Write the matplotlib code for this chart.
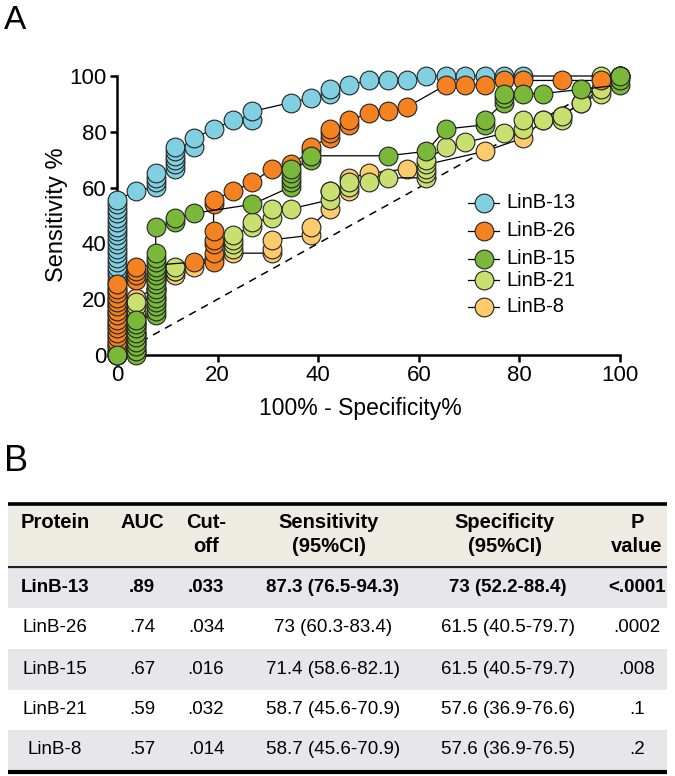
import matplotlib
matplotlib.use('Agg')
import matplotlib.pyplot as plt
from matplotlib import font_manager
from matplotlib.lines import Line2D
from matplotlib.patches import Rectangle

W, H = 675, 776

# ---------------- data ----------------
series = ['LinB-13', 'LinB-26', 'LinB-15', 'LinB-21', 'LinB-8']
colors = ['#80d0e2', '#f58220', '#7ab83a', '#c9df6f', '#fdca6c']

lin13_x = [0]*36 + [3.8, 7.7, 7.7, 7.7, 7.7, 11.5, 11.5, 11.5, 11.5, 11.5, 11.5,
                    15.4, 15.4, 19.2, 23.1, 26.9, 26.9, 34.6, 38.5, 42.3, 42.3, 46.2,
                    50.0, 53.8, 57.7, 61.5, 65.4, 69.2, 73.1, 76.9, 80.8, 100]
lin13_y = [0.0, 1.6, 3.2, 4.8, 6.3, 7.9, 9.5, 11.1, 12.7, 14.3, 15.9, 17.5, 19.0, 20.6,
           22.2, 23.8, 25.4, 27.0, 28.6, 30.2, 31.7, 33.3, 34.9, 36.5, 38.1, 39.7, 41.3,
           42.9, 44.4, 46.0, 47.6, 49.2, 50.8, 52.4, 54.0, 55.6,
           58.7, 60.3, 61.9, 63.5, 65.1, 66.7, 68.3, 69.8, 71.4, 73.0, 74.6,
           74.6, 77.8, 81.0, 84.1, 84.1, 87.3, 90.5, 92.1, 93.7, 95.2, 96.8,
           98.4, 98.4, 98.4, 100, 100, 100, 100, 100, 100, 100]

lin26_x = [0]*17 + [3.8, 3.8, 3.8, 3.8, 15.4, 19.2, 19.2, 19.2, 19.2, 19.2, 19.2, 19.2,
                    23.1, 26.9, 30.8, 34.6, 38.5, 38.5, 42.3, 42.3, 42.3, 46.2, 46.2,
                    50.0, 53.8, 57.7, 65.4, 69.2, 73.1, 76.9, 80.8, 88.5, 96.2, 100]
lin26_y = [0.0, 1.6, 3.2, 4.8, 6.3, 7.9, 9.5, 11.1, 12.7, 14.3, 15.9, 17.5, 19.0, 20.6,
           22.2, 23.8, 25.4,
           27.0, 28.6, 30.2, 31.7, 33.3, 33.3, 36.5, 39.7, 41.3, 44.4, 54.0, 55.6,
           58.7, 61.9, 66.7, 68.3, 73.0, 74.6, 77.8, 79.4, 81.0, 82.5, 84.1,
           86.6, 87.3, 88.9, 96.8, 96.8, 96.8, 98.4, 98.4, 98.4, 98.4, 100]

lin15_x = [0, 3.8, 3.8, 3.8, 3.8, 3.8, 3.8, 3.8, 3.8, 3.8,
           7.7, 7.7, 7.7, 7.7, 7.7, 7.7, 7.7, 7.7, 7.7, 7.7, 7.7, 7.7, 7.7, 7.7, 7.7, 7.7,
           11.5, 11.5, 15.4, 26.9, 34.6, 34.6, 34.6, 34.6, 34.6, 38.5, 38.5, 53.8,
           61.5, 65.4, 73.1, 73.1, 76.9, 76.9, 76.9, 80.8, 84.6, 92.3, 100, 100, 100]
lin15_y = [0, 0, 1.6, 3.2, 4.8, 6.3, 7.9, 9.5, 11.1, 12.7,
           14.3, 15.9, 17.5, 19.0, 20.6, 22.2, 23.8, 25.4, 27.0, 28.6, 30.2, 31.7, 33.3,
           34.9, 36.5, 46.0,
           47.6, 49.2, 50.8, 54.0, 60.3, 61.9, 63.5, 65.1, 66.7, 69.8, 71.4, 71.4,
           73.0, 81.0, 82.5, 84.1, 90.5, 92.1, 93.7, 93.7, 93.7, 95.2, 96.8, 98.4, 100]

lin21_x = [0, 3.8, 3.8, 3.8, 3.8, 3.8, 3.8, 3.8, 3.8, 3.8, 3.8, 3.8, 3.8,
           7.7, 7.7, 7.7, 7.7, 11.5, 11.5, 19.2, 23.1, 23.1, 23.1, 23.1,
           26.9, 26.9, 30.8, 30.8, 34.6, 42.3, 42.3, 46.2, 46.2, 50.0, 53.8,
           61.5, 61.5, 61.5, 61.5, 61.5, 65.4, 69.2, 76.9, 80.8, 80.8,
           84.6, 88.5, 88.5, 92.3, 96.2, 96.2, 96.2, 100]
lin21_y = [0, 1.6, 3.2, 4.8, 6.3, 7.9, 9.5, 11.1, 12.7, 14.3, 15.9, 17.5, 19.0,
           20.6, 23.8, 27.0, 28.6, 30.2, 31.7, 34.9, 38.1, 39.7, 41.3, 42.9,
           46.0, 47.6, 49.2, 52.4, 52.4, 55.6, 58.7, 60.3, 61.9, 61.9, 63.5,
           63.5, 65.1, 66.7, 68.3, 69.8, 74.6, 76.2, 79.4, 81.0, 84.1,
           84.1, 84.1, 85.7, 90.5, 93.7, 95.2, 100, 100]

lin8_x = [0, 3.8, 3.8, 3.8, 3.8, 3.8, 3.8, 3.8, 7.7, 7.7, 11.5, 11.5, 15.4,
          23.1, 30.8, 30.8, 30.8, 38.5, 38.5, 42.3, 42.3, 46.2, 46.2, 50.0, 57.7,
          73.1, 80.8, 84.6, 88.5, 92.3, 96.2, 100]
lin8_y = [0, 1.6, 4.8, 7.9, 11.1, 14.3, 17.5, 20.6, 23.8, 27.0, 28.6, 30.2, 31.7,
          36.5, 36.5, 38.1, 41.3, 42.9, 46.0, 52.4, 58.7, 58.7, 63.5, 65.1, 66.7,
          73.0, 77.8, 84.1, 85.7, 90.5, 95.2, 100]

series_x = [lin13_x, lin26_x, lin15_x, lin21_x, lin8_x]
series_y = [lin13_y, lin26_y, lin15_y, lin21_y, lin8_y]
draw_z = [4, 5, 6, 3, 2]   # stacking order seen in the picture

xticks = [0, 20, 40, 60, 80, 100]
yticks = [0, 20, 40, 60, 80, 100]

# table
head_line1 = ['Protein', 'AUC', 'Cut-', 'Sensitivity', 'Specificity', 'P']
head_line2 = ['', '', 'off', '(95%CI)', '(95%CI)', 'value']
proteins = ['LinB-13', 'LinB-26', 'LinB-15', 'LinB-21', 'LinB-8']
auc = ['.89', '.74', '.67', '.59', '.57']
cutoff = ['.033', '.034', '.016', '.032', '.014']
sens = ['87.3 (76.5-94.3)', '73 (60.3-83.4)', '71.4 (58.6-82.1)',
        '58.7 (45.6-70.9)', '58.7 (45.6-70.9)']
spec = ['73 (52.2-88.4)', '61.5 (40.5-79.7)', '61.5 (40.5-79.7)',
        '57.6 (36.9-76.6)', '57.6 (36.9-76.5)']
pval = ['<.0001', '.0002', '.008', '.1', '.2']

# ---------------- fonts ----------------
plt.rcParams['font.family'] = ['Liberation Sans', 'DejaVu Sans']


def has_font(name):
    try:
        font_manager.findfont(font_manager.FontProperties(family=name),
                              fallback_to_default=False)
        return True
    except Exception:
        return False


if has_font('Liberation Sans Narrow'):
    tfam = ['Liberation Sans Narrow', 'Liberation Sans', 'DejaVu Sans']
    tsize, hsize = 16, 17
else:
    tfam = ['Liberation Sans', 'DejaVu Sans']
    tsize, hsize = 13.5, 14.5

# ---------------- figure ----------------
fig = plt.figure(figsize=(W / 100, H / 100), dpi=100)


def fx(px):
    return px / W


def fy(py):
    return 1 - py / H


AX_L, AX_R, AX_T, AX_B = 117, 620, 76, 355
ax = fig.add_axes([fx(AX_L), fy(AX_B), fx(AX_R) - fx(AX_L), fy(AX_T) - fy(AX_B)])
ax.set_xlim(0, 100)
ax.set_ylim(0, 100)
ax.plot([0, 100], [0, 100], ls=(0, (5, 4)), color='black', lw=1.1, zorder=1)

for xs, ys, c, z in zip(series_x, series_y, colors, draw_z):
    ax.plot(xs, ys, '-', color='black', lw=0.9, marker='o', ms=13.5,
            mfc=c, mec='#222222', mew=0.8, clip_on=False, zorder=z)

for s in ['top', 'right']:
    ax.spines[s].set_visible(False)
for s in ['left', 'bottom']:
    ax.spines[s].set_linewidth(1.8)
ax.set_xticks(xticks)
ax.set_yticks(yticks)
ax.tick_params(direction='out', length=5, width=1.8, labelsize=16, pad=2.5)
ax.set_xlabel('100% - Specificity%', fontsize=16.5, va='center')
ax.set_ylabel('Sensitivity %', fontsize=17, va='center')
ax.xaxis.set_label_coords((360 - AX_L) / (AX_R - AX_L), -(409 - AX_B) / (AX_B - AX_T))
ax.yaxis.set_label_coords(-(AX_L - 57) / (AX_R - AX_L), (AX_B - 215) / (AX_B - AX_T))

# legend (drawn by hand to match the uneven spacing)
leg_y = [203, 231, 259, 280, 307]
for name, c, yy in zip(series, colors, leg_y):
    fig.add_artist(Line2D([fx(468), fx(499)], [fy(yy), fy(yy)], color='black', lw=0.9))
    fig.add_artist(Line2D([fx(483.5)], [fy(yy)], marker='o', ms=13.5, mfc=c,
                          mec='#222222', mew=0.8, lw=0))
    fig.text(fx(506), fy(yy), name, fontsize=14.5, va='center', ha='left')

# panel letters
fig.text(fx(4), fy(5), 'A', fontsize=24, va='top', ha='left')
fig.text(fx(4), fy(444), 'B', fontsize=26, va='top', ha='left')

# ---------------- table ----------------
tax = fig.add_axes([0, 0, 1, 1])
tax.set_xlim(0, W)
tax.set_ylim(H, 0)
tax.axis('off')
tax.patch.set_visible(False)

x0, x1 = 8, 667
tax.add_patch(Rectangle((x0, 505), x1 - x0, 60, color='#eeece2', lw=0))
row_top = [568, 608, 649, 690, 730]
row_h = [40, 40, 41, 40, 40]
row_bg = ['#e7e7e9', 'white', '#e7e7e9', 'white', '#e7e7e9']
for t, h, c in zip(row_top, row_h, row_bg):
    tax.add_patch(Rectangle((x0, t), x1 - x0, h, color=c, lw=0))
tax.plot([x0, x1], [503.5, 503.5], color='black', lw=2.6, solid_capstyle='butt')
tax.plot([x0, x1], [566.5, 566.5], color='#222222', lw=1.6, solid_capstyle='butt')
tax.plot([x0, x1], [771.5, 771.5], color='black', lw=3.0, solid_capstyle='butt')

head_x = [55, 142, 206, 329, 505, 637]
body_x = [55, 142, 206, 333, 508, 637]
for hx, l1, l2 in zip(head_x, head_line1, head_line2):
    tax.text(hx, 522, l1, ha='center', va='center', fontsize=hsize,
             fontweight='bold', family=tfam)
    if l2:
        tax.text(hx, 546, l2, ha='center', va='center', fontsize=hsize,
                 fontweight='bold', family=tfam)

row_y = [587, 628, 669, 709, 750]
for i, yy in enumerate(row_y):
    vals = [proteins[i], auc[i], cutoff[i], sens[i], spec[i], pval[i]]
    w = 'bold' if i == 0 else 'normal'
    for bx, v in zip(body_x, vals):
        tax.text(bx, yy, v, ha='center', va='center', fontsize=tsize,
                 fontweight=w, family=tfam)

fig.savefig('out.png', dpi=100)
